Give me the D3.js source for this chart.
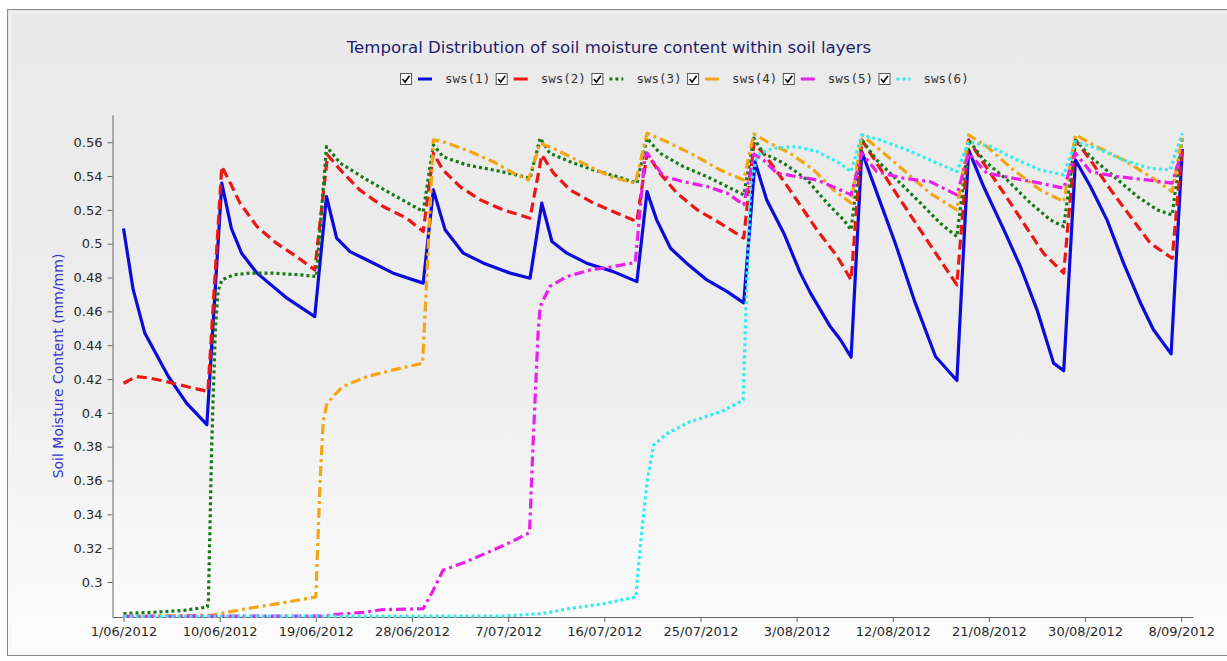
<!DOCTYPE html>
<html>
<head>
<meta charset="utf-8">
<script src="https://cdn.jsdelivr.net/npm/d3@7"></script>
<style>
  html, body { margin: 0; padding: 0; background: #fff; }
  svg { display: block; font-family: "DejaVu Sans", Verdana, sans-serif; }
</style>
</head>
<body>
<div id="chart"></div>
<script>
// values: [days since 1/06/2012, soil moisture (mm/mm)]
var sws1 = [
  [0, 0.509], [0.9, 0.473], [2.0, 0.447], [4.2, 0.4215], [5.9, 0.4057], [7.8, 0.393],
  [9.2, 0.5358], [10.1, 0.509], [11.05, 0.4944], [12.5, 0.4826], [15.3, 0.4678], [17.9, 0.4569],
  [19.0, 0.5279], [19.95, 0.5033], [21.2, 0.4953], [22.8, 0.4904], [25.25, 0.4826], [28.05, 0.4767],
  [29.0, 0.5318], [30.1, 0.5082], [31.8, 0.4944], [33.7, 0.4885], [36.2, 0.4826], [38.05, 0.4796],
  [39.15, 0.524], [40.1, 0.5013], [41.5, 0.4944], [43.35, 0.4885], [45.85, 0.4835], [48.05, 0.4776],
  [49.0, 0.5308], [49.9, 0.5141], [51.2, 0.4973], [52.7, 0.4885], [54.6, 0.4786], [56.5, 0.4717], [58.05, 0.465],
  [59.1, 0.5485], [60.2, 0.5259], [61.8, 0.5062], [63.35, 0.4826], [64.3, 0.4708], [66.15, 0.451], [67.1, 0.4432], [68.1, 0.4329],
  [69.1, 0.5545], [70.4, 0.532], [72.25, 0.5], [74.1, 0.465], [76.0, 0.4333], [78.0, 0.4191],
  [79.1, 0.5555], [80.5, 0.5338], [82.4, 0.5082], [83.95, 0.4865], [85.5, 0.4609], [87.05, 0.4294], [88.0, 0.4249],
  [89.1, 0.5495], [90.5, 0.5338], [92.05, 0.5141], [93.6, 0.4885], [95.2, 0.4648], [96.4, 0.4491], [98.05, 0.4349],
  [99.1, 0.556]
];
var sws2 = [
  [0, 0.4175], [1.2, 0.4215], [2.5, 0.4205], [4.0, 0.4185], [5.9, 0.4156], [7.9, 0.4126],
  [9.2, 0.5456], [10.0, 0.5358], [10.9, 0.524], [12.5, 0.5101], [14.3, 0.5003], [16.2, 0.4924], [17.9, 0.4845],
  [19.1, 0.5525], [20.3, 0.5436], [22.1, 0.5318], [24.3, 0.522], [26.5, 0.5151], [28.05, 0.5072],
  [29.0, 0.5535], [29.9, 0.5436], [31.5, 0.5338], [33.4, 0.5259], [35.55, 0.52], [38.05, 0.5151],
  [39.15, 0.5525], [40.25, 0.5417], [41.8, 0.5318], [44.0, 0.524], [46.2, 0.518], [48.05, 0.5131],
  [49.0, 0.5535], [50.2, 0.5417], [51.8, 0.5299], [53.7, 0.52], [55.85, 0.5121], [58.05, 0.5033],
  [59.0, 0.5594], [59.9, 0.5535], [61.5, 0.5397], [63.0, 0.5259], [64.9, 0.5082], [66.8, 0.4924], [68.1, 0.4786],
  [69.1, 0.5614], [70.5, 0.5476], [72.1, 0.5318], [73.95, 0.5141], [75.8, 0.4964], [78.0, 0.4757],
  [79.1, 0.5614], [80.5, 0.5476], [82.4, 0.5299], [84.25, 0.5121], [86.1, 0.4944], [88.0, 0.4826],
  [89.1, 0.5614], [90.5, 0.5494], [92.4, 0.5318], [94.25, 0.516], [96.1, 0.5003], [98.15, 0.4914],
  [99.1, 0.5574]
];
var sws3 = [
  [0, 0.2813], [3.1, 0.2822], [5.65, 0.2832], [7.85, 0.2852], [7.95, 0.29], [8.25, 0.38], [8.6, 0.45], [8.85, 0.472],
  [9.2, 0.4786], [10.3, 0.4816], [11.8, 0.4826], [14.0, 0.4826], [16.5, 0.4816], [18.05, 0.4806],
  [19.0, 0.5574], [20.3, 0.5476], [22.8, 0.5377], [25.25, 0.5289], [28.05, 0.519],
  [29.0, 0.5584], [29.9, 0.5515], [32.1, 0.5466], [34.6, 0.5436], [36.8, 0.5407], [38.05, 0.5387],
  [39.0, 0.5624], [39.9, 0.5535], [41.8, 0.5485], [44.0, 0.5436], [46.2, 0.5397], [48.05, 0.5358],
  [49.0, 0.5624], [50.2, 0.5535], [52.4, 0.5456], [54.6, 0.5397], [56.5, 0.5338], [58.05, 0.5289],
  [59.0, 0.5624], [59.9, 0.5535], [61.8, 0.5476], [64.0, 0.5377], [65.85, 0.524], [67.4, 0.5141], [68.1, 0.5082],
  [69.1, 0.5614], [70.5, 0.5495], [72.4, 0.5377], [74.6, 0.524], [76.45, 0.5121], [78.0, 0.5042],
  [79.1, 0.5614], [80.5, 0.5495], [82.7, 0.5377], [84.9, 0.524], [86.75, 0.5141], [88.0, 0.5101],
  [89.1, 0.5614], [90.5, 0.5515], [92.7, 0.5397], [94.9, 0.5279], [96.75, 0.52], [98.15, 0.517],
  [99.1, 0.5633]
];
var sws4 = [
  [0, 0.2797], [8.2, 0.2803], [11.5, 0.2842], [14.45, 0.2872], [18.0, 0.2911], [18.4, 0.36], [18.7, 0.395],
  [19.0, 0.4045], [19.6, 0.4097], [20.55, 0.4156], [22.8, 0.4215], [25.25, 0.4254], [28.0, 0.4294],
  [29.0, 0.5614], [29.9, 0.5604], [32.1, 0.5554], [34.6, 0.5485], [36.5, 0.5417], [37.9, 0.5377],
  [39.0, 0.5594], [40.55, 0.5554], [43.05, 0.5475], [45.55, 0.5397], [47.9, 0.5358],
  [49.0, 0.5653], [50.85, 0.5603], [53.35, 0.5525], [55.85, 0.5436], [58.05, 0.5377],
  [59.0, 0.5648], [60.5, 0.5594], [62.4, 0.5535], [64.6, 0.5436], [66.45, 0.5318], [68.1, 0.524],
  [69.1, 0.5643], [70.8, 0.5554], [73.0, 0.5436], [75.5, 0.5298], [78.0, 0.52],
  [79.1, 0.5643], [80.8, 0.5574], [83.3, 0.5436], [85.8, 0.5318], [88.0, 0.5249],
  [89.1, 0.5643], [91.1, 0.5574], [93.6, 0.5495], [96.1, 0.5397], [98.15, 0.5308],
  [99.1, 0.5633]
];
var sws5 = [
  [0, 0.2797], [19.0, 0.2799], [19.5, 0.2807], [22.8, 0.2822], [24.1, 0.2836], [28.05, 0.2842],
  [28.9, 0.294], [29.9, 0.3069], [32.0, 0.3118], [34.55, 0.3187], [36.6, 0.3247], [38.0, 0.3292],
  [38.35, 0.384], [38.8, 0.4471], [39.0, 0.4628], [39.9, 0.4747], [41.5, 0.4806], [43.7, 0.4845], [45.85, 0.4865], [47.9, 0.4888],
  [48.8, 0.5515], [49.0, 0.5535], [50.55, 0.5397], [52.4, 0.5367], [54.6, 0.5338], [56.5, 0.5299], [58.05, 0.523],
  [59.0, 0.553], [59.9, 0.5495], [61.15, 0.5417], [63.0, 0.5397], [64.9, 0.5377], [67.1, 0.5318], [68.1, 0.5289],
  [69.1, 0.5535], [70.5, 0.5426], [73.0, 0.5387], [75.5, 0.5367], [78.0, 0.5289],
  [79.1, 0.5535], [80.8, 0.5417], [83.3, 0.5387], [85.8, 0.5358], [88.0, 0.5328],
  [89.1, 0.5535], [90.5, 0.5426], [93.0, 0.5397], [95.8, 0.5377], [98.15, 0.5358],
  [99.1, 0.5555]
];
var sws6 = [
  [0, 0.2797], [35.4, 0.2799], [39.2, 0.2813], [41.65, 0.2842], [45.0, 0.2872], [47.95, 0.2911],
  [48.35, 0.32], [49.0, 0.3592], [49.6, 0.3808], [50.9, 0.3878], [53.0, 0.3947], [55.9, 0.4006], [58.0, 0.4075],
  [58.3, 0.47], [58.7, 0.535], [59.2, 0.5495], [59.6, 0.5535], [60.85, 0.5564], [63.0, 0.5574], [64.9, 0.5545], [66.8, 0.5485], [68.1, 0.5426],
  [69.1, 0.5643], [70.8, 0.5614], [73.35, 0.5554], [75.5, 0.5495], [78.0, 0.5426],
  [79.1, 0.5603], [81.15, 0.5574], [83.65, 0.5495], [85.8, 0.5436], [88.0, 0.5407],
  [89.1, 0.5603], [91.1, 0.5564], [93.6, 0.5495], [96.1, 0.5446], [97.95, 0.5436],
  [99.1, 0.5653]
];

var seriesNames = ["sws(1)", "sws(2)", "sws(3)", "sws(4)", "sws(5)", "sws(6)"];
var seriesValues = [sws1, sws2, sws3, sws4, sws5, sws6];
var seriesColors = ["#0b0bdc", "#ee1515", "#167a16", "#f2a614", "#ea1fea", "#30eeee"];
var seriesDashes = [null, "10,5", "3,3", "10,4,3,4", "10,4,3,4", "3,3"];

var yTicks = [0.3, 0.32, 0.34, 0.36, 0.38, 0.4, 0.42, 0.44, 0.46, 0.48, 0.5, 0.52, 0.54, 0.56];
var xTickDays = [0, 9, 18, 27, 36, 45, 54, 63, 72, 81, 90, 99];

var startDate = new Date(2012, 5, 1);
function toDate(d) {
  return new Date(startDate.getTime() + d * 864e5);
}

var width = 1227, height = 661;

var svg = d3.select("#chart").append("svg")
  .attr("width", width)
  .attr("height", height);

// panel background
var grad = svg.append("defs").append("linearGradient")
  .attr("id", "bg").attr("x1", 0).attr("y1", 0).attr("x2", 0).attr("y2", 1);
grad.append("stop").attr("offset", 0).attr("stop-color", "#eaeaea");
grad.append("stop").attr("offset", 0.55).attr("stop-color", "#ededed");
grad.append("stop").attr("offset", 1).attr("stop-color", "#fdfdfd");

svg.append("rect")
  .attr("x", 7.5).attr("y", 9.5)
  .attr("width", 1240).attr("height", 646)
  .attr("fill", "url(#bg)")
  .attr("stroke", "#8a8a8a");
svg.append("rect")
  .attr("x", 10.5).attr("y", 12.5)
  .attr("width", 1240).attr("height", 640)
  .attr("fill", "none")
  .attr("stroke", "#f6f6f6");

var x = d3.scaleTime()
  .domain([toDate(-1.03), toDate(100.1)])
  .range([112.5, 1193]);

var y = d3.scaleLinear()
  .domain([0.2793, 0.5761])
  .range([617, 115]);

// title
svg.append("text")
  .attr("x", 609).attr("y", 53)
  .attr("text-anchor", "middle")
  .attr("font-size", 16.6)
  .attr("fill", "#1e1e6e")
  .text("Temporal Distribution of soil moisture content within soil layers");

// axes
var yAxis = d3.axisLeft(y)
  .tickValues(yTicks)
  .tickFormat(function (d) { return String(+d.toFixed(2)); })
  .tickSize(5)
  .tickPadding(5)
  .tickSizeOuter(0);

var xAxis = d3.axisBottom(x)
  .tickValues(xTickDays.map(toDate))
  .tickFormat(d3.timeFormat("%-d/%m/%Y"))
  .tickSize(5)
  .tickPadding(5)
  .tickSizeOuter(0);

var gy = svg.append("g")
  .attr("transform", "translate(112.5,0)")
  .call(yAxis);
var gx = svg.append("g")
  .attr("transform", "translate(0,617)")
  .call(xAxis);

[gx, gy].forEach(function (g) {
  g.selectAll("path, line").attr("stroke", "#666");
  g.selectAll("text")
    .attr("fill", "#2a2a2a")
    .attr("font-size", 13)
    .attr("font-family", "DejaVu Sans, Verdana, sans-serif");
});

svg.append("text")
  .attr("transform", "translate(63,366) rotate(-90)")
  .attr("text-anchor", "middle")
  .attr("font-size", 14)
  .attr("fill", "#3535cc")
  .text("Soil Moisture Content (mm/mm)");

// lines
var line = d3.line()
  .x(function (d) { return x(toDate(d[0])); })
  .y(function (d) { return y(d[1]); });

var series = seriesNames.map(function (name, i) {
  return { name: name, values: seriesValues[i], color: seriesColors[i], dash: seriesDashes[i] };
});

svg.append("g").selectAll("path")
  .data(series)
  .enter()
  .append("path")
  .attr("d", function (d) { return line(d.values); })
  .attr("fill", "none")
  .attr("stroke", function (d) { return d.color; })
  .attr("stroke-width", 3.2)
  .attr("stroke-linejoin", "round")
  .attr("stroke-dasharray", function (d) { return d.dash; });

// legend
var legend = svg.append("g").selectAll(".legend-item")
  .data(series)
  .enter()
  .append("g")
  .attr("class", "legend-item")
  .attr("transform", function (d, i) { return "translate(" + (400 + i * 95.7) + ",73)"; });

legend.append("rect")
  .attr("x", 0.5).attr("y", 0.5)
  .attr("width", 11).attr("height", 11)
  .attr("fill", "#fff")
  .attr("stroke", "#555");
legend.append("path")
  .attr("d", "M2.5,6 L5,9 L9.5,2.8")
  .attr("fill", "none")
  .attr("stroke", "#111")
  .attr("stroke-width", 1.7);
legend.append("line")
  .attr("x1", 18).attr("x2", 32)
  .attr("y1", 6).attr("y2", 6)
  .attr("stroke", function (d) { return d.color; })
  .attr("stroke-width", 3)
  .attr("stroke-dasharray", function (d) { return d.dash === "3,3" ? "3,3" : null; });
legend.append("text")
  .attr("x", 45).attr("y", 10)
  .attr("font-size", 12.5)
  .attr("font-family", "DejaVu Sans Mono, monospace")
  .attr("fill", "#333")
  .text(function (d) { return d.name; });
</script>
</body>
</html>
